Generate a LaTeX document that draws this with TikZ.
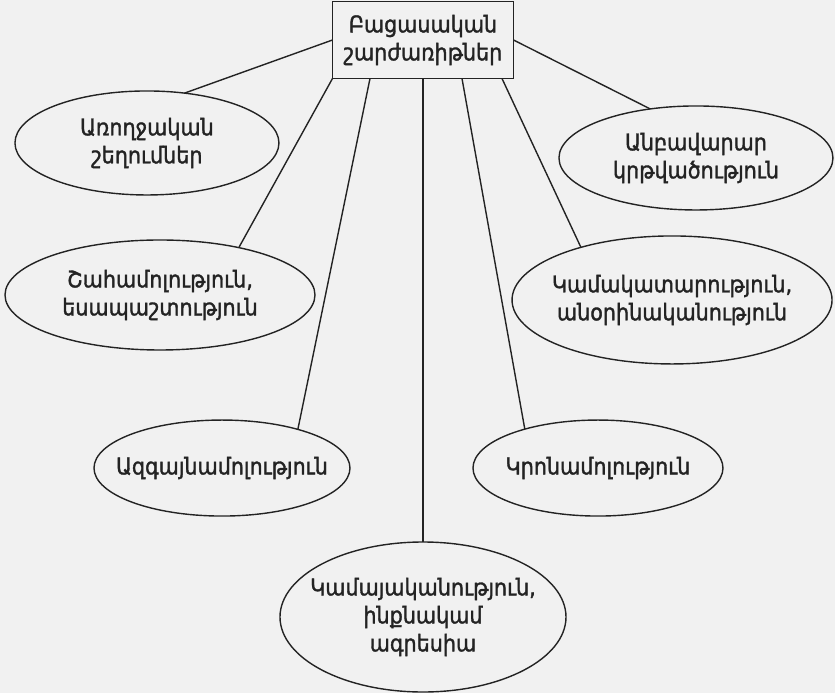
\documentclass[tikz,border=0pt]{standalone}
\usepackage{fontspec}
\setmainfont{DejaVu Sans}[FakeStretch=0.9, FakeBold=1.5]
\usetikzlibrary{shapes.geometric, positioning}
\definecolor{ink}{HTML}{232323}
\definecolor{paper}{HTML}{F1F1F1}
\tikzset{
  head/.style={rectangle, draw=ink, line width=1.6pt, align=center,
    minimum width=181pt, minimum height=77pt, inner sep=2pt, outer sep=0pt,
    text=ink, font=\fontsize{23}{28}\selectfont},
  cause/.style={ellipse, draw=ink, line width=1.4pt, align=center,
    inner xsep=-30pt, inner ysep=0pt, outer sep=0pt,
    text=ink, font=\fontsize{23}{28}\selectfont},
  link/.style={draw=ink, line width=1.4pt}
}
\begin{document}
\begin{tikzpicture}

% ---- page ----
\fill[paper] (-423pt,40pt) rectangle (412pt,-653pt);

% ---- main box ----
\node[head] (head) {Բացասական\\շարժառիթներ};

% ---- left column ----
\node[cause, minimum width=264pt, minimum height=104pt,
  below left=27.7pt and 92.2pt of head] (health) {Առողջական\\շեղումներ};
\node[cause, minimum width=310pt, minimum height=110pt,
  below left=177.6pt and 62.9pt of head] (greed) {Շահամոլություն,\\եսապաշտություն};
\node[cause, minimum width=256pt, minimum height=96pt,
  below left=355.6pt and 20pt of head] (nation) {Ազգայնամոլություն};

% ---- right column ----
\node[cause, minimum width=274pt, minimum height=104pt,
  below right=42.7pt and 85.6pt of head] (edu) {Անբավարար\\կրթվածություն};
\node[cause, minimum width=320pt, minimum height=128pt,
  below right=176.2pt and 45.4pt of head] (arbit) {Կամակատարություն,\\անօրինականություն};
\node[cause, minimum width=250pt, minimum height=96pt,
  below right=355.6pt and -3.9pt of head] (relig) {Կրոնամոլություն};

% ---- bottom ----
\node[cause, minimum width=286pt, minimum height=150pt,
  below=463.5pt of head] (will) {Կամայականություն,\\ինքնակամ\\ագրեսիա};

% ---- connectors ----
\draw[link] (head.west) -- (health.53);
\draw[link] (head.east) -- (edu.133);
\draw[link] (head.south west) -- (greed.31);
\draw[link] ([xshift=-53pt]head.south) -- (nation.27);
\draw[link] (head.south) -- (will.north);
\draw[link] ([xshift=39pt]head.south) -- (relig.152);
\draw[link] ([xshift=79pt]head.south) -- (arbit.150);

\end{tikzpicture}
\end{document}
